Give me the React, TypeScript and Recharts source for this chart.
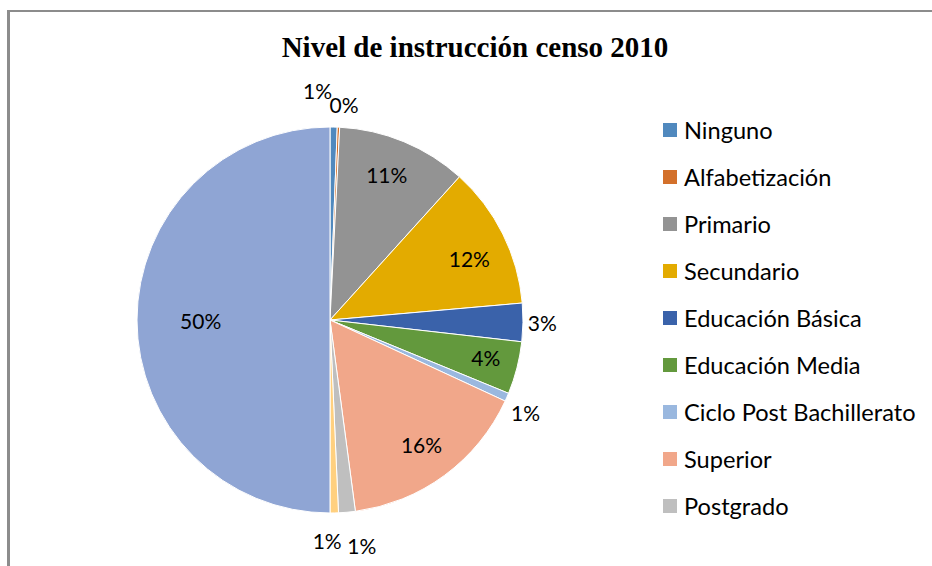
import { PieChart, Pie, Cell, Legend } from 'recharts'

// nivel de instrucción, % of population
const categories = [
  'Ninguno',
  'Alfabetización',
  'Primario',
  'Secundario',
  'Educación Básica',
  'Educación Media',
  'Ciclo Post Bachillerato',
  'Superior',
  'Postgrado',
  'Se ignora',
  'Total',
]
const values = [0.6, 0.2, 10.9, 11.9, 3.2, 4.4, 0.7, 16.0, 1.4, 0.7, 50.0]
const colors = [
  '#5089BE',
  '#D3702A',
  '#939393',
  '#E3AB00',
  '#3A62AA',
  '#63993D',
  '#9AB8DF',
  '#F1A78A',
  '#BFBFBF',
  '#FFD07F',
  '#8FA5D4',
]
// the original legend only shows the first nine entries
const legendCount = 9

// where each label sits: radius as a fraction of the pie, angle nudge in degrees (clockwise)
const labelSpots = [
  { r: 1.19, da: -4.2 },
  { r: 1.12, da: 1.2 },
  { r: 0.81, da: -1.2 },
  { r: 0.79, da: 2.5 },
  { r: 1.1, da: 0 },
  { r: 0.83, da: -1 },
  { r: 1.12, da: 1.7 },
  { r: 0.8, da: 0 },
  { r: 1.18, da: -3 },
  { r: 1.14, da: 2 },
  { r: 0.67, da: 0 },
]

const FONT = 'Lato, "Open Sans", sans-serif'

const data = categories.map((name, i) => ({ name, value: values[i] }))

const renderLabel = (props: any) => {
  const { cx, cy, midAngle, outerRadius, percent, index } = props
  const spot = labelSpots[index]
  const theta = ((90 - midAngle + spot.da) * Math.PI) / 180
  const r = outerRadius * spot.r
  const x = cx + r * Math.sin(theta)
  const y = cy - r * Math.cos(theta)
  return (
    <text
      x={x}
      y={y}
      textAnchor="middle"
      dominantBaseline="central"
      fill="#000"
      fontSize={21}
      fontFamily={FONT}
    >
      {Math.round(percent * 100)}%
    </text>
  )
}

// legend keeps the original order, so build it from the arrays
const renderLegend = () => (
  <div style={{ fontFamily: FONT, fontSize: 23.6, color: '#000' }}>
    {categories.slice(0, legendCount).map((name, i) => (
      <div key={name} style={{ display: 'flex', alignItems: 'center', height: 47 }}>
        <span
          style={{
            display: 'inline-block',
            width: 14,
            height: 14,
            background: colors[i],
            marginRight: 7,
          }}
        />
        <span>{name}</span>
      </div>
    ))}
  </div>
)

export default function App() {
  return (
    <div style={{ position: 'absolute', left: 0, top: 0, width: 932, height: 566, background: '#fff' }}>
      <div
        style={{
          position: 'absolute',
          left: 7,
          top: 10,
          right: 0,
          bottom: 0,
          borderLeft: '3px solid #8C8C8C',
          borderTop: '2px solid #8C8C8C',
        }}
      />
      <div
        style={{
          position: 'absolute',
          left: 0,
          width: 950,
          top: 33,
          lineHeight: '29px',
          textAlign: 'center',
          fontFamily: '"Liberation Serif", "Times New Roman", serif',
          fontWeight: 'bold',
          fontSize: 29,
        }}
      >
        Nivel de instrucción censo 2010
      </div>
      <PieChart width={932} height={566} style={{ position: 'absolute', left: 0, top: 0 }}>
        <Pie
          data={data}
          dataKey="value"
          nameKey="name"
          cx={325}
          cy={315}
          outerRadius={193}
          startAngle={90}
          endAngle={-270}
          stroke="#fff"
          strokeWidth={1}
          label={renderLabel}
          labelLine={false}
          isAnimationActive={false}
        >
          {data.map((d, i) => (
            <Cell key={d.name} fill={colors[i]} />
          ))}
        </Pie>
        <Legend
          layout="vertical"
          content={renderLegend}
          wrapperStyle={{ position: 'absolute', left: 663, top: 106, width: 270 }}
        />
      </PieChart>
    </div>
  )
}
